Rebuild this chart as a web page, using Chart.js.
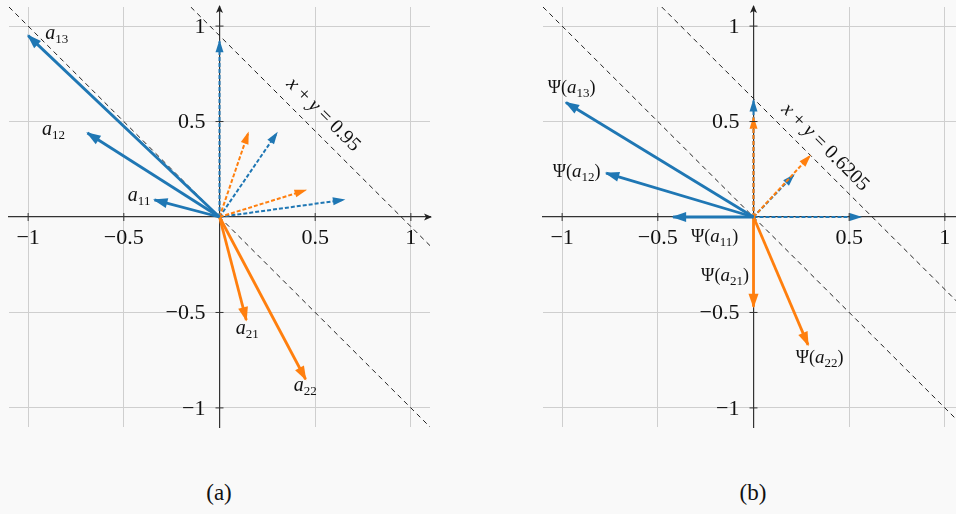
<!DOCTYPE html>
<html>
<head>
<meta charset="utf-8">
<script src="https://cdn.jsdelivr.net/npm/chart.js@4.4.1/dist/chart.umd.min.js"></script>
<style>
  html, body { margin: 0; padding: 0; background: #f9f9f9; overflow: hidden; width: 956px; height: 514px; position: relative; }
  canvas { position: absolute; top: 0; }
  #chartA { left: 0; }
  #chartB { left: 534px; }
  .cap { position: absolute; top: 480px; font: 23px "Liberation Serif", serif; color: #111; transform: translateX(-50%); }
</style>
</head>
<body>
<canvas id="chartA" width="440" height="450"></canvas>
<canvas id="chartB" width="440" height="450"></canvas>
<div class="cap" style="left:219px">(a)</div>
<div class="cap" style="left:753px">(b)</div>
<script>
// ---- data ----
const tickVals = [-1, -0.5, 0.5, 1];

// (a) original vectors
const aBlueSolid = [[-1.0, 0.95], [-0.69, 0.44], [-0.34, 0.09]];     // a13, a12, a11
const aOrangeSolid = [[0.14, -0.54], [0.45, -0.85]];                 // a21, a22
const aBlueDashed = [[0, 0.92], [0.30, 0.44], [0.65, 0.09]];
const aOrangeDashed = [[0.15, 0.44], [0.45, 0.14]];
const aLineC = 0.95;

// (b) after Psi
const bBlueSolid = [[-0.98, 0.60], [-0.77, 0.23], [-0.42, 0]];
const bOrangeSolid = [[0, -0.47], [0.285, -0.67]];
const bBlueDashed = [[0, 0.61], [0.21, 0.22], [0.56, 0]];
const bOrangeDashed = [[0, 0.52], [0.295, 0.32]];
const bLineC = 0.6205;

const labelSubs = ['13', '12', '11', '21', '22'];
// where the labels sit (data coords)
const aLabelAt = [[-0.85, 0.948], [-0.868, 0.447], [-0.42, 0.10], [0.145, -0.596], [0.448, -0.897]];
const bLabelAt = [[-0.95, 0.674], [-0.924, 0.237], [-0.203, -0.107], [-0.149, -0.308], [0.346, -0.74]];

const BLUE = '#1f77b4';
const ORANGE = '#ff7f0e';
const INK = '#111';
const FONT = '"Liberation Serif", serif';

const fmt = v => v < 0 ? '\u2212' + Math.abs(v) : String(v);

function richText(ctx, segs, cx, base) {
  let w = 0;
  segs.forEach(s => { ctx.font = s[1]; w += ctx.measureText(s[0]).width; });
  let x = cx - w / 2;
  ctx.textAlign = 'left';
  ctx.textBaseline = 'alphabetic';
  segs.forEach(s => {
    ctx.font = s[1];
    ctx.fillText(s[0], x, base + (s[2] || 0));
    x += ctx.measureText(s[0]).width;
  });
}

// arrow heads, axis arrows, tick marks and labels
const decoPlugin = {
  id: 'deco',
  afterDatasetDraw(chart, args) {
    const ds = chart.data.datasets[args.index];
    if (!ds.head) return;
    const p0 = args.meta.data[0], p1 = args.meta.data[1];
    const ang = Math.atan2(p1.y - p0.y, p1.x - p0.x);
    const [len, w] = ds.head;
    const ctx = chart.ctx;
    ctx.save();
    ctx.translate(p1.x, p1.y);
    ctx.rotate(ang);
    ctx.fillStyle = ds.borderColor;
    ctx.beginPath();
    ctx.moveTo(1.5, 0);
    ctx.lineTo(-len, w / 2);
    ctx.lineTo(-len, -w / 2);
    ctx.closePath();
    ctx.fill();
    ctx.restore();
  },
  afterDraw(chart, args, opts) {
    const ctx = chart.ctx;
    const xs = chart.scales.x, ys = chart.scales.y;
    const ox = xs.getPixelForValue(0), oy = ys.getPixelForValue(0);
    const area = chart.chartArea;
    ctx.save();
    // tick marks crossing the axes
    ctx.strokeStyle = '#333';
    ctx.lineWidth = 1;
    tickVals.forEach(v => {
      const px = xs.getPixelForValue(v), py = ys.getPixelForValue(v);
      ctx.beginPath();
      ctx.moveTo(px, oy - 4); ctx.lineTo(px, oy + 4);
      ctx.moveTo(ox - 4, py); ctx.lineTo(ox + 4, py);
      ctx.stroke();
    });
    // y tick labels, left of the centred axis
    ctx.fillStyle = INK;
    ctx.font = '22px ' + FONT;
    ctx.textAlign = 'right';
    ctx.textBaseline = 'middle';
    tickVals.forEach(v => ctx.fillText(fmt(v), ox - 14, ys.getPixelForValue(v) + 1));

    // axis arrows
    ctx.fillStyle = '#222';
    ctx.beginPath();
    ctx.moveTo(area.right + 2, oy); ctx.lineTo(area.right - 6, oy - 3.5); ctx.lineTo(area.right - 4, oy); ctx.lineTo(area.right - 6, oy + 3.5);
    ctx.closePath(); ctx.fill();
    ctx.beginPath();
    ctx.moveTo(ox, area.top - 2); ctx.lineTo(ox - 3.5, area.top + 6); ctx.lineTo(ox, area.top + 4); ctx.lineTo(ox + 3.5, area.top + 6);
    ctx.closePath(); ctx.fill();

    // vector labels
    ctx.fillStyle = INK;
    opts.labelAt.forEach((p, i) => {
      const cx = xs.getPixelForValue(p[0]), cy = ys.getPixelForValue(p[1]);
      const segs = opts.psi
        ? [['\u03A8(', '18px ' + FONT], ['a', 'italic 19px ' + FONT], [labelSubs[i], '13px ' + FONT, 4], [')', '18px ' + FONT]]
        : [['a', 'italic 20px ' + FONT], [labelSubs[i], '13px ' + FONT, 4]];
      richText(ctx, segs, cx, cy + (opts.psi ? 5 : 3));
    });

    // line text, rotated along x + y = c
    const tx = xs.getPixelForValue(opts.textAt[0]), ty = ys.getPixelForValue(opts.textAt[1]);
    ctx.translate(tx, ty);
    ctx.rotate(Math.PI / 4);
    richText(ctx, [['x', 'italic 20px ' + FONT], [' + ', '20px ' + FONT], ['y', 'italic 20px ' + FONT], [' = ', '20px ' + FONT], [String(opts.c), '20px ' + FONT]], 0, 6);
    ctx.restore();
  }
};

function vec(p, color, dashed) {
  return {
    data: [{ x: 0, y: 0 }, { x: p[0], y: p[1] }],
    showLine: true,
    borderColor: color,
    borderWidth: dashed ? 2 : 2.8,
    borderDash: dashed ? [4, 2] : [],
    pointRadius: 0,
    head: dashed ? [11, 8] : [13, 10],
    order: dashed ? 2 : 1
  };
}

function diag(c) {
  return {
    data: [{ x: c - 1.1, y: 1.1 }, { x: 1.1, y: c - 1.1 }],
    showLine: true,
    borderColor: '#222',
    borderWidth: 1,
    borderDash: [5, 4],
    pointRadius: 0,
    order: 3
  };
}

function axis(pos, showLabels) {
  return {
    type: 'linear',
    min: -1.1,
    max: 1.1,
    position: pos,
    afterBuildTicks: s => { s.ticks = tickVals.map(v => ({ value: v })); },
    // centred axes should not shrink the plot area
    afterFit: s => { s.paddingTop = 0; s.paddingBottom = 0; s.paddingLeft = 0; s.paddingRight = 0; },
    grid: { color: '#cfcfcf', lineWidth: 1, drawTicks: false },
    border: { color: '#333', width: 1.2 },
    ticks: { display: showLabels, font: { family: FONT, size: 22 }, color: INK, padding: 8, maxRotation: 0, autoSkip: false, callback: fmt }
  };
}

function makeChart(id, blueSolid, orangeSolid, blueDashed, orangeDashed, c, labelAt, textAt, psi) {
  const datasets = [];
  blueSolid.forEach(p => datasets.push(vec(p, BLUE, false)));
  orangeSolid.forEach(p => datasets.push(vec(p, ORANGE, false)));
  orangeDashed.forEach(p => datasets.push(vec(p, ORANGE, true)));
  blueDashed.forEach(p => datasets.push(vec(p, BLUE, true)));
  datasets.push(diag(0));
  datasets.push(diag(c));

  new Chart(document.getElementById(id), {
    type: 'scatter',
    data: { datasets },
    options: {
      responsive: false,
      animation: false,
      events: [],
      layout: { padding: { left: 9, right: 10, top: 7, bottom: 23 } },
      scales: {
        x: axis({ y: 0 }, true),
        y: axis({ x: 0 }, false)
      },
      plugins: {
        legend: { display: false },
        tooltip: { enabled: false },
        deco: { labelAt, textAt, c, psi }
      }
    },
    plugins: [decoPlugin]
  });
}

makeChart('chartA', aBlueSolid, aOrangeSolid, aBlueDashed, aOrangeDashed, aLineC, aLabelAt, [0.545, 0.538], false);
makeChart('chartB', bBlueSolid, bOrangeSolid, bBlueDashed, bOrangeDashed, bLineC, bLabelAt, [0.377, 0.368], true);
</script>
</body>
</html>
